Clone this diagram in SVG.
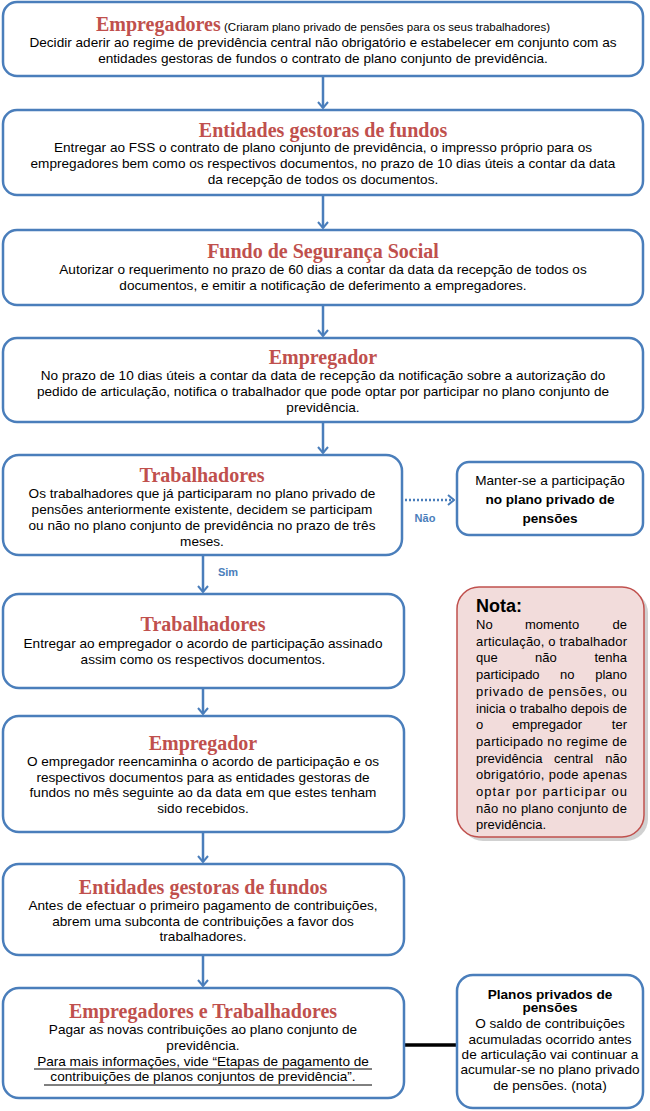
<svg xmlns="http://www.w3.org/2000/svg" width="650" height="1111" viewBox="0 0 650 1111">
<style>
.box{fill:#fff;stroke:#4a7ebb;stroke-width:2.5}
.title{font-family:"Liberation Serif",serif;font-weight:bold;font-size:20px;fill:#c0504d}
.body{font-family:"Liberation Sans",Arial,sans-serif;font-size:13.6px;fill:#000;text-anchor:middle}
.nb{font-family:"Liberation Sans",Arial,sans-serif;font-size:13px;fill:#000}
.conn{stroke:#4a7ebb;stroke-width:2.5;fill:none}
.lbl{font-family:"Liberation Sans",Arial,sans-serif;font-size:11px;fill:#4a7ebb;font-weight:bold}
</style>
<defs>
<marker id="arr" viewBox="0 0 8 12" refX="7" refY="6" markerWidth="8" markerHeight="12" markerUnits="userSpaceOnUse" orient="auto">
<path d="M1,1 L7,6 L1,11" fill="none" stroke="#4a7ebb" stroke-width="2"/>
</marker>
</defs>

<g id="connectors">
<line class="conn" x1="323" y1="77" x2="323" y2="108" marker-end="url(#arr)"/>
<line class="conn" x1="323" y1="196" x2="323" y2="228" marker-end="url(#arr)"/>
<line class="conn" x1="323" y1="306" x2="323" y2="336" marker-end="url(#arr)"/>
<line class="conn" x1="323" y1="423" x2="323" y2="453" marker-end="url(#arr)"/>
<line class="conn" x1="405" y1="500" x2="454" y2="500" stroke-dasharray="2,2" marker-end="url(#arr)"/>
<text class="lbl" x="425" y="522" text-anchor="middle">Não</text>
<line class="conn" x1="203" y1="556" x2="203" y2="592" marker-end="url(#arr)"/>
<text class="lbl" x="228" y="576" text-anchor="middle">Sim</text>
<line class="conn" x1="203" y1="689" x2="203" y2="714" marker-end="url(#arr)"/>
<line class="conn" x1="203" y1="833" x2="203" y2="862" marker-end="url(#arr)"/>
<line class="conn" x1="203" y1="956" x2="203" y2="986" marker-end="url(#arr)"/>
<line x1="404" y1="1045" x2="457" y2="1045" stroke="#000" stroke-width="3.5"/>
</g>

<g id="n1">
<rect class="box" x="3" y="2" width="640" height="74" rx="14"/>
<text x="323" y="31" text-anchor="middle"><tspan class="title">Empregadores</tspan><tspan font-family="Liberation Sans,Arial,sans-serif" font-size="11.5" fill="#000"> (Criaram plano privado de pensões para os seus trabalhadores)</tspan></text>
<text class="body" x="323" y="47">Decidir aderir ao regime de previdência central não obrigatório e estabelecer em conjunto com as</text>
<text class="body" x="323" y="63">entidades gestoras de fundos o contrato de plano conjunto de previdência.</text>
</g>

<g id="n2">
<rect class="box" x="3" y="110" width="640" height="85" rx="14"/>
<text class="title" x="323" y="137" text-anchor="middle">Entidades gestoras de fundos</text>
<text class="body" x="323" y="152">Entregar ao FSS o contrato de plano conjunto de previdência, o impresso próprio para os</text>
<text class="body" x="323" y="168">empregadores bem como os respectivos documentos, no prazo de 10 dias úteis a contar da data</text>
<text class="body" x="323" y="184">da recepção de todos os documentos.</text>
</g>

<g id="n3">
<rect class="box" x="3" y="230" width="640" height="75" rx="14"/>
<text class="title" x="323" y="258" text-anchor="middle">Fundo de Segurança Social</text>
<text class="body" x="323" y="274">Autorizar o requerimento no prazo de 60 dias a contar da data da recepção de todos os</text>
<text class="body" x="323" y="290">documentos, e emitir a notificação de deferimento a empregadores.</text>
</g>

<g id="n4">
<rect class="box" x="3" y="338" width="640" height="84" rx="14"/>
<text class="title" x="323" y="364" text-anchor="middle">Empregador</text>
<text class="body" x="323" y="380">No prazo de 10 dias úteis a contar da data de recepção da notificação sobre a autorização do</text>
<text class="body" x="323" y="396">pedido de articulação, notifica o trabalhador que pode optar por participar no plano conjunto de</text>
<text class="body" x="323" y="412">previdência.</text>
</g>

<g id="n5">
<rect class="box" x="3" y="455" width="399" height="100" rx="16"/>
<text class="title" x="202" y="482" text-anchor="middle">Trabalhadores</text>
<text class="body" x="202" y="498">Os trabalhadores que já participaram no plano privado de</text>
<text class="body" x="202" y="514">pensões anteriormente existente, decidem se participam</text>
<text class="body" x="202" y="530">ou não no plano conjunto de previdência no prazo de três</text>
<text class="body" x="202" y="546">meses.</text>
</g>

<g id="n5b">
<rect class="box" x="457" y="462" width="186" height="73" rx="12"/>
<text class="body" x="550" y="485" font-size="13.5">Manter-se a participação</text>
<text class="body" x="550" y="504" font-size="13.5" font-weight="bold">no plano privado de</text>
<text class="body" x="550" y="523" font-size="13.5" font-weight="bold">pensões</text>
</g>

<g id="nota">
<rect x="461" y="591" width="187" height="250" rx="22" fill="#9a9a9a" opacity="0.45"/>
<rect x="457" y="587" width="187" height="250" rx="22" fill="#f2dcdb" stroke="#c0504d" stroke-width="1.5"/>
<text x="476" y="612" font-family="Liberation Sans,Arial,sans-serif" font-size="18" font-weight="bold" fill="#000">Nota:</text>
<text class="nb" x="476" y="629">No</text>
<text class="nb" x="525" y="629">momento</text>
<text class="nb" x="627" y="629" text-anchor="end">de</text>
<text class="nb" x="476" y="645.7" textLength="151" lengthAdjust="spacing">articulação, o trabalhador</text>
<text class="nb" x="476" y="662.4">que</text>
<text class="nb" x="535" y="662.4">não</text>
<text class="nb" x="627" y="662.4" text-anchor="end">tenha</text>
<text class="nb" x="476" y="679.1">participado</text>
<text class="nb" x="560" y="679.1">no</text>
<text class="nb" x="627" y="679.1" text-anchor="end">plano</text>
<text class="nb" x="476" y="695.8" textLength="151" lengthAdjust="spacing">privado de pensões, ou</text>
<text class="nb" x="476" y="712.5" textLength="151" lengthAdjust="spacing">inicia o trabalho depois de</text>
<text class="nb" x="476" y="729.2">o</text>
<text class="nb" x="512" y="729.2">empregador</text>
<text class="nb" x="627" y="729.2" text-anchor="end">ter</text>
<text class="nb" x="476" y="745.9" textLength="151" lengthAdjust="spacing">participado no regime de</text>
<text class="nb" x="476" y="762.6">previdência</text>
<text class="nb" x="554" y="762.6">central</text>
<text class="nb" x="627" y="762.6" text-anchor="end">não</text>
<text class="nb" x="476" y="779.3" textLength="151" lengthAdjust="spacing">obrigatório, pode apenas</text>
<text class="nb" x="476" y="796" textLength="151" lengthAdjust="spacing">optar por participar ou</text>
<text class="nb" x="476" y="812.7" textLength="151" lengthAdjust="spacing">não no plano conjunto de</text>
<text class="nb" x="476" y="829.4">previdência.</text>
</g>

<g id="n6">
<rect class="box" x="3" y="594" width="401" height="94" rx="16"/>
<text class="title" x="203" y="631" text-anchor="middle">Trabalhadores</text>
<text class="body" x="203" y="648">Entregar ao empregador o acordo de participação assinado</text>
<text class="body" x="203" y="664">assim como os respectivos documentos.</text>
</g>

<g id="n7">
<rect class="box" x="3" y="716" width="401" height="116" rx="16"/>
<text class="title" x="203" y="750" text-anchor="middle">Empregador</text>
<text class="body" x="203" y="766">O empregador reencaminha o acordo de participação e os</text>
<text class="body" x="203" y="782">respectivos documentos para as entidades gestoras de</text>
<text class="body" x="203" y="797">fundos no mês seguinte ao da data em que estes tenham</text>
<text class="body" x="203" y="813">sido recebidos.</text>
</g>

<g id="n8">
<rect class="box" x="3" y="864" width="401" height="91" rx="16"/>
<text class="title" x="203" y="894" text-anchor="middle">Entidades gestoras de fundos</text>
<text class="body" x="203" y="910">Antes de efectuar o primeiro pagamento de contribuições,</text>
<text class="body" x="203" y="926">abrem uma subconta de contribuições a favor dos</text>
<text class="body" x="203" y="941">trabalhadores.</text>
</g>

<g id="n9">
<rect class="box" x="3" y="988" width="401" height="110" rx="16"/>
<text class="title" x="203" y="1018" text-anchor="middle">Empregadores e Trabalhadores</text>
<text class="body" x="203" y="1034">Pagar as novas contribuições ao plano conjunto de</text>
<text class="body" x="203" y="1050">previdência.</text>
<text class="body" x="203" y="1066">Para mais informações, vide “Etapas de pagamento de</text>
<text class="body" x="203" y="1081">contribuições de planos conjuntos de previdência”.</text>
<line x1="34" y1="1069" x2="372" y2="1069" stroke="#000" stroke-width="1"/>
<line x1="44" y1="1085" x2="372" y2="1085" stroke="#000" stroke-width="1"/>
</g>

<g id="n10">
<rect class="box" x="457" y="975" width="186" height="133" rx="16"/>
<text class="body" x="550" y="999" font-size="12.5" font-weight="bold">Planos privados de</text>
<text class="body" x="550" y="1012" font-size="12.5" font-weight="bold">pensões</text>
<text class="body" x="550" y="1028" font-size="10.8">O saldo de contribuições</text>
<text class="body" x="550" y="1044" font-size="10.8">acumuladas ocorrido antes</text>
<text class="body" x="550" y="1059" font-size="10.8">de articulação vai continuar a</text>
<text class="body" x="550" y="1074" font-size="10.8">acumular-se no plano privado</text>
<text class="body" x="550" y="1090" font-size="10.8">de pensões. (nota)</text>
</g>
</svg>
